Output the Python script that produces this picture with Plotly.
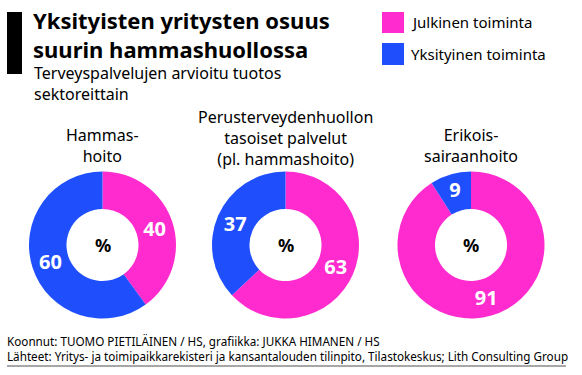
import plotly.graph_objects as go

W, H = 582, 375

categories = ["Hammas-<br>hoito", "Perusterveydenhuollon<br>tasoiset palvelut<br>(pl. hammashoito)", "Erikois-<br>sairaanhoito"]
sectors = ["Julkinen toiminta", "Yksityinen toiminta"]
julkinen = [40, 63, 91]
yksityinen = [60, 37, 9]

title_text = "Yksityisten yritysten osuus<br>suurin hammashuollossa"
subtitle_text = "Terveyspalvelujen arvioitu tuotos<br>sektoreittain"
footer_text = ("Koonnut: TUOMO PIETILÄINEN / HS, grafiikka: JUKKA HIMANEN / HS<br>"
               "Lähteet: Yritys- ja toimipaikkarekisteri ja kansantalouden tilinpito, Tilastokeskus; Lith Consulting Group")

PINK = "#ff2bcf"
BLUE = "#1f4ffd"
FONT = "Noto Sans"


def px(x):
    return x / W


def py(y):
    return 1 - y / H


fig = go.Figure()

centers = [(102.5, 245), (285.5, 245), (471, 245)]
R = 73.5
for i, (cx, cy) in enumerate(centers):
    fig.add_trace(go.Pie(
        labels=sectors,
        values=[julkinen[i], yksityinen[i]],
        hole=0.49,
        sort=False,
        direction="clockwise",
        rotation=0,
        marker=dict(colors=[PINK, BLUE], line=dict(width=0)),
        textinfo="value",
        textposition="inside",
        insidetextorientation="horizontal",
        textfont=dict(family=FONT, size=20, color="white", weight="bold"),
        domain=dict(x=[px(cx - R), px(cx + R)], y=[py(cy + R), py(cy - R)]),
        showlegend=False,
        hoverinfo="label+value",
    ))

ann = []


def add_text(text, x, y, size, xanchor="left", weight="normal", color="black", align="left"):
    ann.append(dict(text=text, x=px(x), y=py(y), xref="paper", yref="paper",
                    xanchor=xanchor, yanchor="middle", showarrow=False, align=align,
                    borderpad=0,
                    font=dict(family=FONT, size=size, color=color, weight=weight)))


add_text(title_text, 32, 34, 22, weight="bold")
add_text(subtitle_text, 33, 84, 16)

add_text(sectors[0], 410, 22, 15)
add_text(sectors[1], 410, 54, 15)

cat_centers = [145.5, 138, 145.5]
for i, (cx, cy) in enumerate(centers):
    add_text(categories[i], cx, cat_centers[i], 16, xanchor="center", align="center")
    add_text("%", cx, cy, 18, xanchor="center", weight="bold")

add_text(footer_text, 6, 348, 11.7)

shapes = [
    dict(type="rect", xref="paper", yref="paper", x0=px(7), x1=px(22), y0=py(74), y1=py(12),
         fillcolor="black", line=dict(width=0)),
    dict(type="rect", xref="paper", yref="paper", x0=px(382), x1=px(404), y0=py(33), y1=py(12),
         fillcolor=PINK, line=dict(width=0)),
    dict(type="rect", xref="paper", yref="paper", x0=px(382), x1=px(404), y0=py(65), y1=py(43),
         fillcolor=BLUE, line=dict(width=0)),
    dict(type="line", xref="paper", yref="paper", x0=px(7), x1=px(566), y0=py(366), y1=py(366),
         line=dict(color="#8a8a8a", width=1.5)),
]

fig.update_layout(
    width=W, height=H,
    margin=dict(l=0, r=0, t=0, b=0),
    paper_bgcolor="white", plot_bgcolor="white",
    annotations=ann, shapes=shapes,
    font=dict(family=FONT),
)

fig.write_html("out.html", config={"displayModeBar": False},
               post_script="document.body.style.margin='0px';")
